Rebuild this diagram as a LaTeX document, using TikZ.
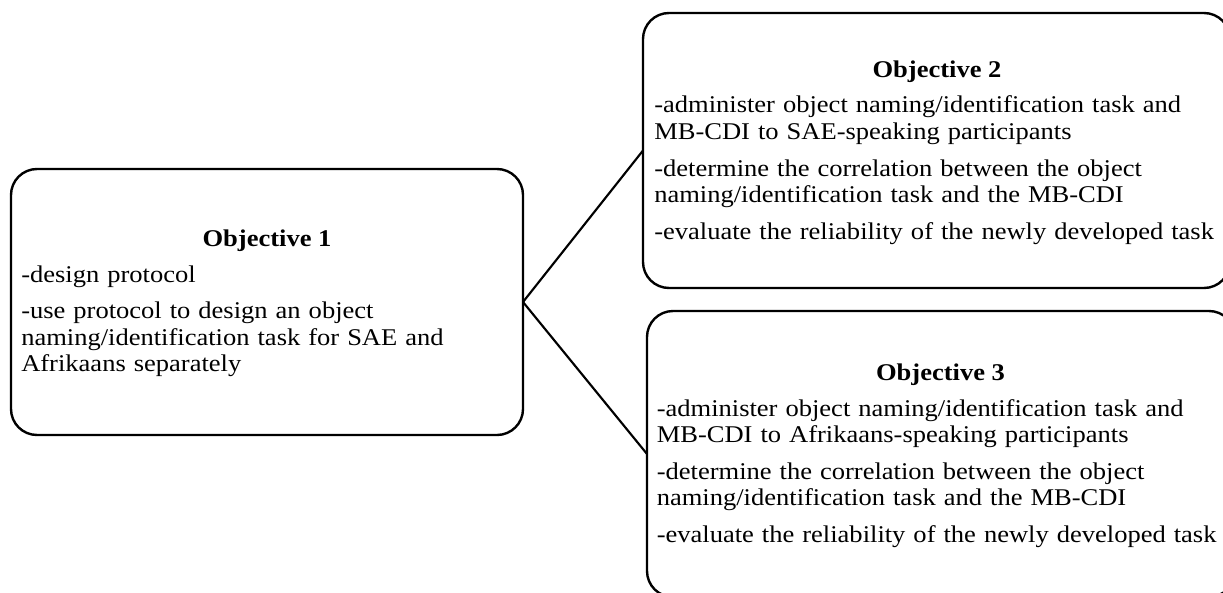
\documentclass[tikz,border=0pt]{standalone}
\usepackage{fontspec}
\setmainfont{Liberation Serif}
\newfontfamily\objfont[FakeStretch=1.105]{Liberation Serif}
\begin{document}
\begin{tikzpicture}[x=0.75pt,y=-0.75pt,
  objbox/.style={draw, line width=1.8pt, rounded corners=19.5pt, inner sep=0pt, outer sep=0pt},
  conn/.style={line width=1.6pt},
  titletext/.style={font=\objfont\fontsize{18}{19.9}\selectfont\bfseries, anchor=base, inner sep=0pt},
  bodytext/.style={font=\objfont\fontsize{18}{19.9}\selectfont, anchor=base west, inner sep=0pt, align=left, text width=450pt}]
\clip (0,0) rectangle (1223,592);
\fill[white] (0,0) rectangle (1223,592);
% boxes
\node[objbox, minimum width=384pt, minimum height=199.5pt] (b1) at (267,302) {};
\node[objbox, minimum width=440.25pt, minimum height=206.25pt] (b2) at (936.5,150.5) {};
\node[objbox, minimum width=441pt, minimum height=214.5pt] (b3) at (941,454) {};
% connectors
\draw[conn] (b1.east) -- (b2.west);
\draw[conn] (b1.east) -- (b3.west);
% texts
\node[titletext] (t1) at (267,246) {Objective 1};
\node[bodytext] (x1) at (21,282) {\setlength{\parskip}{7.5pt}-design protocol\par
-use protocol to design an object\\ naming/identification task for SAE and\\ Afrikaans separately};
\node[titletext] (t2) at (937,78) {Objective 2};
\node[bodytext] (x2) at (654,113) {\setlength{\parskip}{7.5pt}-administer object naming/identification task and\\ MB-CDI to SAE-speaking participants\par
-determine the correlation between the object\\ naming/identification task and the MB-CDI\par
-evaluate the reliability of the newly developed task};
\node[titletext] (t3) at (940.5,380) {Objective 3};
\node[bodytext] (x3) at (656.5,416) {\setlength{\parskip}{7.5pt}-administer object naming/identification task and\\ MB-CDI to Afrikaans-speaking participants\par
-determine the correlation between the object\\ naming/identification task and the MB-CDI\par
-evaluate the reliability of the newly developed task};
\end{tikzpicture}
\end{document}
